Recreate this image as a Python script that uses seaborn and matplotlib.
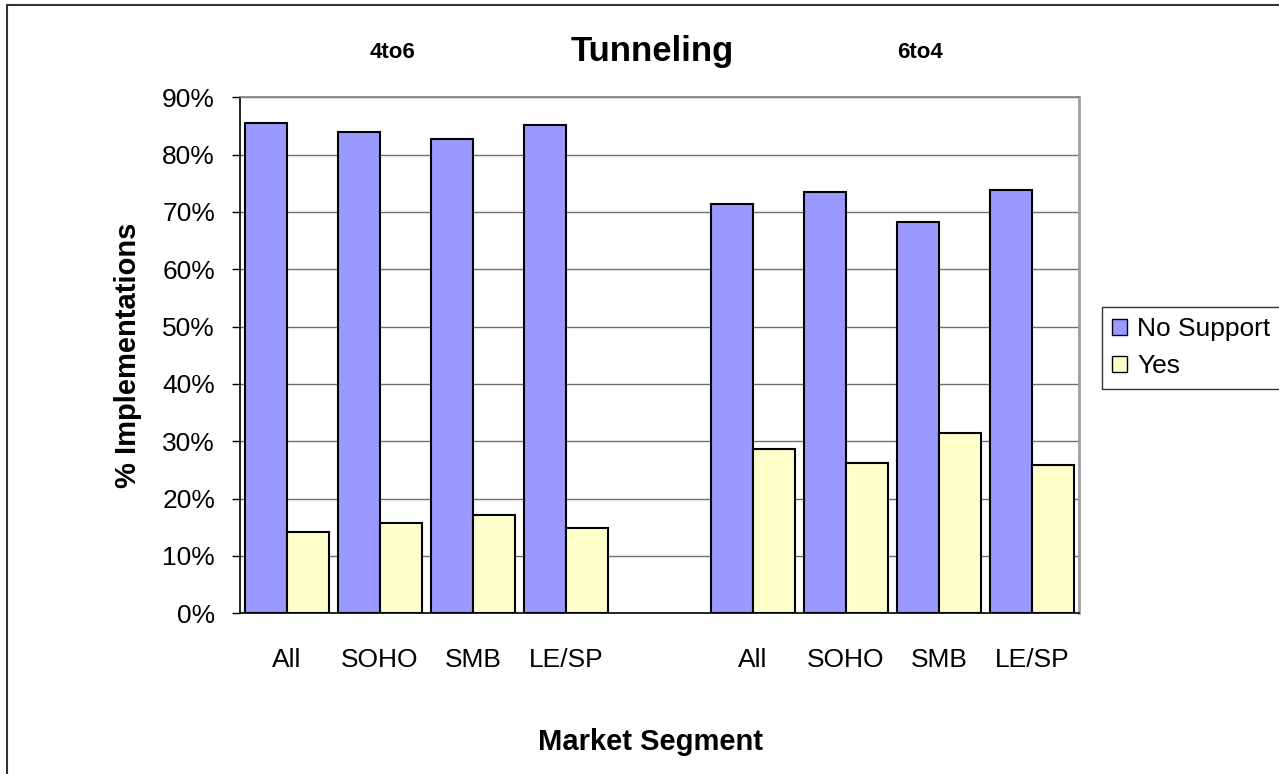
import pandas as pd
import numpy as np
import matplotlib
matplotlib.use("Agg")
import matplotlib.pyplot as plt
import seaborn as sns
from matplotlib.patches import Rectangle

# data
segments = ['All', 'SOHO', 'SMB', 'LE/SP']
groups = ['4to6', '6to4']
no_support_4to6 = [85.6, 84.0, 82.8, 85.2]
yes_4to6 = [14.1, 15.7, 17.2, 14.9]
no_support_6to4 = [71.4, 73.4, 68.3, 73.8]
yes_6to4 = [28.6, 26.3, 31.4, 25.9]
series = ['No Support', 'Yes']
colors = ['#9999FF', '#FFFFCC']

rows = []
for g, ns, ys in [('4to6', no_support_4to6, yes_4to6), ('6to4', no_support_6to4, yes_6to4)]:
    for s, a, b in zip(segments, ns, ys):
        rows.append({'key': s + '|' + g, 'series': 'No Support', 'pct': a})
        rows.append({'key': s + '|' + g, 'series': 'Yes', 'pct': b})
data = pd.DataFrame(rows)
order = [s + '|4to6' for s in segments] + ['gap'] + [s + '|6to4' for s in segments]
tick_labels = segments + [''] + segments

sns.set_style("white")
plt.rcParams['font.family'] = ['Liberation Sans', 'DejaVu Sans']
for k in ['text.color', 'axes.labelcolor', 'xtick.color', 'ytick.color']:
    plt.rcParams[k] = 'black'

W, H = 1279, 774
fig = plt.figure(figsize=(W / 100, H / 100), dpi=100)
ax = fig.add_axes([240 / W, 1 - 613.3 / H, (1079 - 240) / W, (613.3 - 97.3) / H])

sns.barplot(data=data, x='key', y='pct', hue='series', order=order, hue_order=series,
            palette=colors, saturation=1, width=0.9, edgecolor='black', linewidth=1.5,
            errorbar=None, ax=ax, legend=False, zorder=3)

ax.set_xlim(-0.5, len(order) - 0.5)
ax.set_ylim(0, 90)
ax.set_yticks(np.arange(0, 91, 10))
ax.set_yticklabels([f'{v}%' for v in range(0, 91, 10)], fontsize=19)
ax.yaxis.grid(True, color='#707070', linewidth=1, zorder=0)
ax.set_axisbelow(True)

ax.set_xticks(range(len(order)))
ax.set_xticklabels(tick_labels, fontsize=19)
ax.set_xticks(np.arange(-0.5, len(order), 1), minor=True)
ax.tick_params(axis='x', which='major', length=0, pad=25)
ax.tick_params(axis='x', which='minor', length=6, width=1, color='black', direction='out')
ax.tick_params(axis='y', length=6, width=1, color='black', direction='out', pad=12, left=True)

for sp in ['left', 'bottom']:
    ax.spines[sp].set_color('black')
    ax.spines[sp].set_linewidth(1.2)
ax.spines['top'].set_color('#808080')
ax.spines['top'].set_linewidth(1.2)
ax.spines['right'].set_color('#A0A0A0')
ax.spines['right'].set_linewidth(2)

ax.set_xlabel('Market Segment', fontsize=21, fontweight='bold')
ax.set_ylabel('% Implementations', fontsize=21, fontweight='bold')
ax.xaxis.set_label_coords((650 - 240) / 839, -(742 - 613.3) / 516)
ax.yaxis.set_label_coords(-(240 - 128) / 839, 0.5)
ax.xaxis.label.set_va('center')
ax.yaxis.label.set_va('center')

fig.text(652 / W, 1 - 52 / H, 'Tunneling', fontsize=25, fontweight='bold', ha='center', va='center')
fig.text(393 / W, 1 - 53 / H, '4to6', fontsize=16, fontweight='bold', ha='center', va='center')
fig.text(920 / W, 1 - 53 / H, '6to4', fontsize=16, fontweight='bold', ha='center', va='center')

handles = [Rectangle((0, 0), 1, 1, facecolor=c, edgecolor='black', linewidth=1) for c in colors]
leg = fig.legend(handles, series, loc='upper left', bbox_to_anchor=(1101.7 / W, 1 - 306.7 / H),
                 fontsize=19, frameon=True, fancybox=False, borderaxespad=0,
                 handlelength=0.55, handleheight=0.55, handletextpad=0.4,
                 labelspacing=0.5, borderpad=0.4)
leg.get_frame().set_edgecolor('black')
leg.get_frame().set_linewidth(1)

# chart frame
fig.patches.append(Rectangle((7 / W, -0.1), 1.2, 1 - 5 / H + 0.1, transform=fig.transFigure,
                             fill=False, edgecolor='#333333', linewidth=1.5))

fig.savefig('out.png', dpi=100)
